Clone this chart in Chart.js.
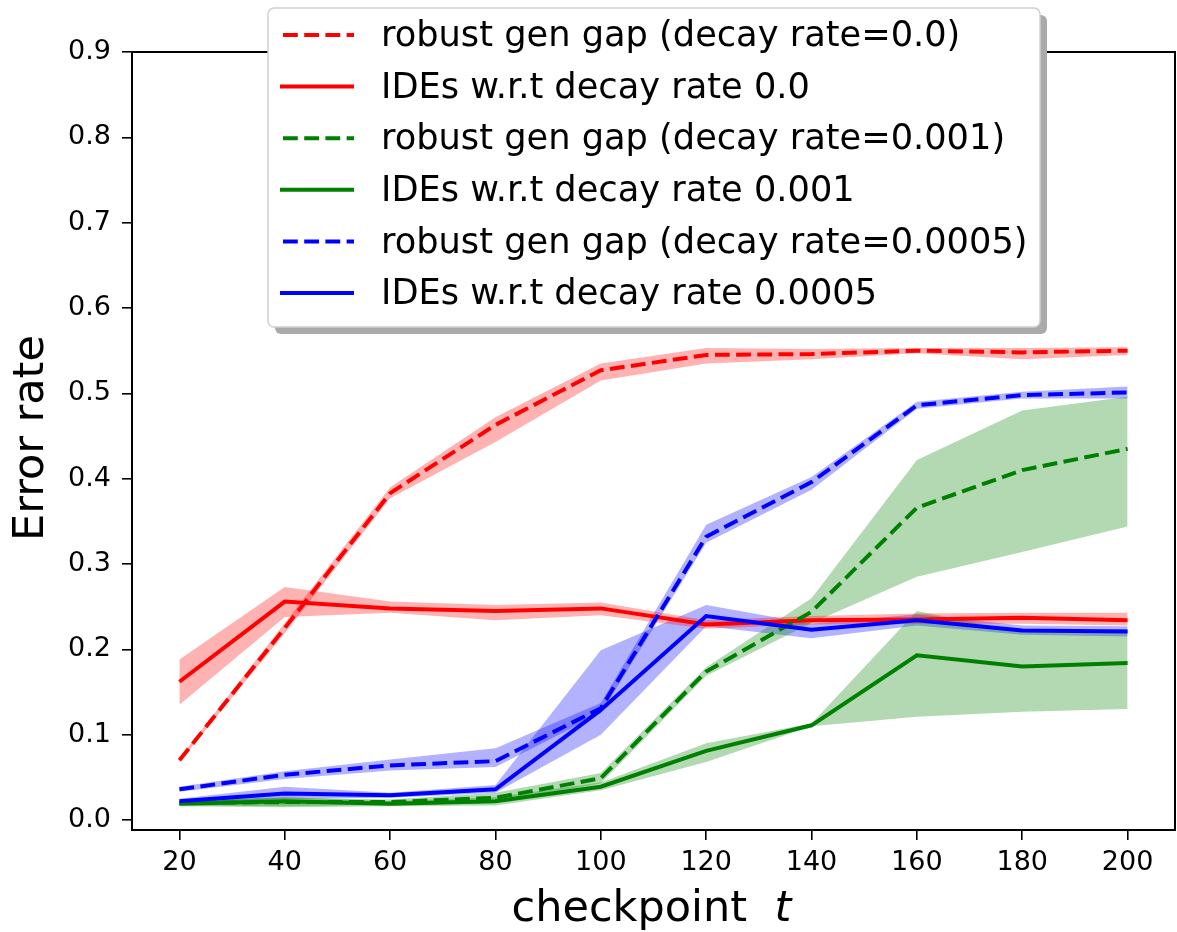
<!DOCTYPE html>
<html>
<head>
<meta charset="utf-8">
<title>Error rate vs checkpoint</title>
<script src="https://cdn.jsdelivr.net/npm/chart.js@4.4.1/dist/chart.umd.min.js"></script>
<style>
  html, body { margin: 0; padding: 0; background: #fff; }
  #wrap { width: 1177px; height: 932px; }
</style>
</head>
<body>
<div id="wrap"><canvas id="myChart" width="1177" height="932"></canvas></div>
<script>
// checkpoints on the x axis
const checkpoints = [20, 40, 60, 80, 100, 120, 140, 160, 180, 200];
const yTicks = [0.0, 0.1, 0.2, 0.3, 0.4, 0.5, 0.6, 0.7, 0.8, 0.9];

// decay rate 0.0
const gap0   = [0.070, 0.225, 0.383, 0.463, 0.527, 0.545, 0.546, 0.550, 0.548, 0.550];
const gap0Lo = [0.068, 0.219, 0.377, 0.443, 0.515, 0.535, 0.540, 0.547, 0.540, 0.545];
const gap0Hi = [0.072, 0.231, 0.390, 0.472, 0.535, 0.553, 0.552, 0.553, 0.553, 0.554];
const ide0   = [0.162, 0.256, 0.248, 0.245, 0.248, 0.229, 0.234, 0.235, 0.237, 0.234];
const ide0Lo = [0.135, 0.238, 0.243, 0.234, 0.240, 0.224, 0.229, 0.230, 0.230, 0.228];
const ide0Hi = [0.188, 0.273, 0.256, 0.252, 0.255, 0.234, 0.239, 0.242, 0.243, 0.243];

// decay rate 0.001
const gap001   = [0.020, 0.021, 0.021, 0.026, 0.049, 0.174, 0.244, 0.366, 0.410, 0.435];
const gap001Lo = [0.017, 0.016, 0.018, 0.020, 0.043, 0.169, 0.231, 0.285, 0.314, 0.344];
const gap001Hi = [0.023, 0.026, 0.024, 0.032, 0.055, 0.179, 0.260, 0.422, 0.480, 0.496];
const ide001   = [0.019, 0.022, 0.019, 0.022, 0.039, 0.081, 0.111, 0.193, 0.180, 0.184];
const ide001Lo = [0.016, 0.015, 0.016, 0.017, 0.035, 0.068, 0.110, 0.121, 0.127, 0.130];
const ide001Hi = [0.022, 0.027, 0.022, 0.027, 0.044, 0.090, 0.113, 0.245, 0.220, 0.224];

// decay rate 0.0005
const gap0005   = [0.036, 0.053, 0.064, 0.069, 0.131, 0.332, 0.396, 0.486, 0.498, 0.501];
const gap0005Lo = [0.033, 0.048, 0.058, 0.062, 0.125, 0.325, 0.387, 0.482, 0.494, 0.494];
const gap0005Hi = [0.039, 0.057, 0.071, 0.084, 0.137, 0.346, 0.402, 0.490, 0.502, 0.508];
const ide0005   = [0.022, 0.031, 0.029, 0.036, 0.129, 0.239, 0.223, 0.234, 0.222, 0.221];
const ide0005Lo = [0.019, 0.025, 0.026, 0.032, 0.100, 0.227, 0.213, 0.228, 0.217, 0.215];
const ide0005Hi = [0.025, 0.039, 0.032, 0.041, 0.199, 0.252, 0.230, 0.241, 0.228, 0.227];

const series = [
  {label: 'robust gen gap (decay rate=0.0)',    mean: gap0,    lo: gap0Lo,    hi: gap0Hi,    color: '#ff0000', band: 'rgba(255,0,0,0.3)',   dashed: true},
  {label: 'IDEs w.r.t decay rate 0.0',          mean: ide0,    lo: ide0Lo,    hi: ide0Hi,    color: '#ff0000', band: 'rgba(255,0,0,0.3)',   dashed: false},
  {label: 'robust gen gap (decay rate=0.001)',  mean: gap001,  lo: gap001Lo,  hi: gap001Hi,  color: '#008000', band: 'rgba(0,128,0,0.3)',   dashed: true},
  {label: 'IDEs w.r.t decay rate 0.001',        mean: ide001,  lo: ide001Lo,  hi: ide001Hi,  color: '#008000', band: 'rgba(0,128,0,0.3)',   dashed: false},
  {label: 'robust gen gap (decay rate=0.0005)', mean: gap0005, lo: gap0005Lo, hi: gap0005Hi, color: '#0000ff', band: 'rgba(0,0,255,0.3)',   dashed: true},
  {label: 'IDEs w.r.t decay rate 0.0005',       mean: ide0005, lo: ide0005Lo, hi: ide0005Hi, color: '#0000ff', band: 'rgba(0,0,255,0.3)',   dashed: false}
];

const DASH = [14.8, 6.4];
const FONT = "'DejaVu Sans', sans-serif";

function pts(arr) {
  return arr.map((v, i) => ({x: checkpoints[i], y: v}));
}

const datasets = [];
series.forEach((s, i) => {
  // band: lower edge, then upper edge filled down to it
  const loIdx = datasets.length;
  datasets.push({
    data: pts(s.lo), borderWidth: 0, borderColor: 'rgba(0,0,0,0)',
    pointRadius: 0, fill: false, order: 20 + i
  });
  datasets.push({
    data: pts(s.hi), borderWidth: 0, borderColor: 'rgba(0,0,0,0)',
    backgroundColor: s.band, pointRadius: 0, fill: loIdx, order: 20 + i
  });
});
series.forEach((s, i) => {
  datasets.push({
    label: s.label, data: pts(s.mean), borderColor: s.color, borderWidth: 4,
    borderDash: s.dashed ? DASH : [], pointRadius: 0, fill: false,
    tension: 0, order: 10 - i
  });
});

// frame, axis titles and the shadowed legend box
const decor = {
  id: 'decor',
  afterDraw(chart) {
    const ctx = chart.ctx;
    const a = chart.chartArea;
    ctx.save();
    ctx.strokeStyle = '#000';
    ctx.lineWidth = 2;
    ctx.strokeRect(a.left, a.top, a.right - a.left, a.bottom - a.top);

    // y title
    ctx.fillStyle = '#000';
    ctx.font = '43px ' + FONT;
    ctx.textAlign = 'center';
    ctx.textBaseline = 'alphabetic';
    ctx.save();
    ctx.translate(43, 438);
    ctx.rotate(-Math.PI / 2);
    ctx.fillText('Error rate', 0, 0);
    ctx.restore();

    // x title with italic t
    const part1 = 'checkpoint  ';
    ctx.font = '43px ' + FONT;
    const w1 = ctx.measureText(part1).width;
    ctx.font = 'oblique 43px ' + FONT;
    const w2 = ctx.measureText('t').width;
    const cx = (a.left + a.right) / 2;
    let x0 = cx - (w1 + w2) / 2 - 2;
    ctx.textAlign = 'left';
    ctx.font = '43px ' + FONT;
    ctx.fillText(part1, x0, 921);
    ctx.font = 'oblique 43px ' + FONT;
    ctx.fillText('t', x0 + w1, 921);

    // legend
    const bx = 268, by = 8, bw = 772, bh = 319, r = 6;
    function rr(x, y, w, h) {
      ctx.beginPath();
      ctx.moveTo(x + r, y);
      ctx.arcTo(x + w, y, x + w, y + h, r);
      ctx.arcTo(x + w, y + h, x, y + h, r);
      ctx.arcTo(x, y + h, x, y, r);
      ctx.arcTo(x, y, x + w, y, r);
      ctx.closePath();
    }
    ctx.fillStyle = '#aaaaaa';
    rr(bx + 7, by + 7, bw, bh);
    ctx.fill();
    ctx.fillStyle = '#ffffff';
    rr(bx, by, bw, bh);
    ctx.fill();
    ctx.strokeStyle = '#d0d0d0';
    ctx.lineWidth = 1.5;
    ctx.stroke();

    ctx.font = '35.2px ' + FONT;
    ctx.textBaseline = 'middle';
    ctx.textAlign = 'left';
    series.forEach((s, i) => {
      const y = 35 + 51.6 * i;
      ctx.strokeStyle = s.color;
      ctx.lineWidth = 4;
      ctx.setLineDash(s.dashed ? DASH : []);
      ctx.beginPath();
      ctx.moveTo(s.dashed ? 283 : 280, y);
      ctx.lineTo(354, y);
      ctx.stroke();
      ctx.setLineDash([]);
      ctx.fillStyle = '#000';
      ctx.fillText(s.label, 381, y + 2);
    });
    ctx.restore();
  }
};

const ctx = document.getElementById('myChart').getContext('2d');
const myChart = new Chart(ctx, {
  type: 'line',
  data: {datasets: datasets},
  options: {
    responsive: false,
    animation: false,
    devicePixelRatio: 1,
    layout: {padding: {top: 52, right: 2, left: 0, bottom: 0}},
    plugins: {
      legend: {display: false},
      tooltip: {enabled: false}
    },
    scales: {
      x: {
        type: 'linear',
        min: 11,
        max: 209,
        afterBuildTicks: (s) => { s.ticks = checkpoints.map(v => ({value: v})); },
        afterFit: (s) => { s.height = 102; },
        ticks: {
          color: '#000', font: {family: FONT, size: 27}, padding: 7,
          maxRotation: 0, autoSkip: false,
          callback: (v) => String(v)
        },
        grid: {drawOnChartArea: false, drawTicks: true, tickLength: 10, color: '#000', lineWidth: 1.6},
        border: {display: false}
      },
      y: {
        min: -0.0117,
        max: 0.9,
        afterBuildTicks: (s) => { s.ticks = yTicks.map(v => ({value: v})); },
        afterFit: (s) => { s.width = 132; },
        ticks: {
          color: '#000', font: {family: FONT, size: 27}, padding: 11,
          autoSkip: false,
          callback: (v) => Number(v).toFixed(1)
        },
        grid: {drawOnChartArea: false, drawTicks: true, tickLength: 10, color: '#000', lineWidth: 1.6},
        border: {display: false}
      }
    }
  },
  plugins: [decor]
});
</script>
</body>
</html>
